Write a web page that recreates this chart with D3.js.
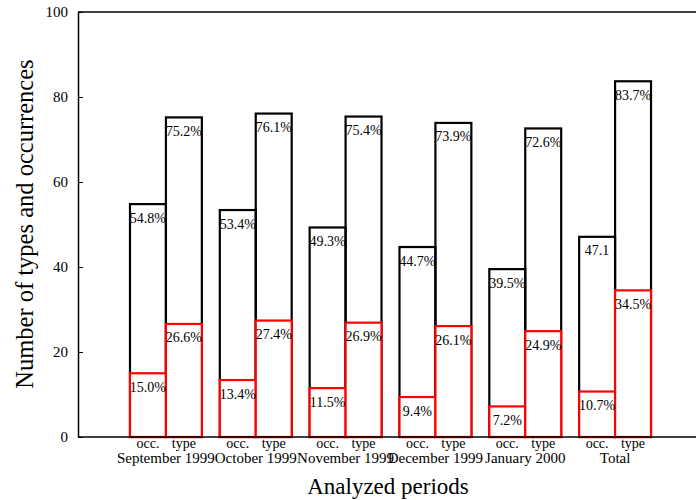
<!DOCTYPE html>
<html lang="en">
<head>
    <meta charset="UTF-8">
    <title>Analyzed periods</title>
    <script src="https://d3js.org/d3.v7.min.js"></script>
    <style>
        body { margin: 0; background: #fff; }
        text { font-family: "Liberation Serif", "DejaVu Serif", serif; }
    </style>
</head>
<body>
    <div id="chart"></div>

    <script>
        // data
        const periods = ["September 1999", "October 1999", "November 1999", "December 1999", "January 2000", "Total"];
        const kinds = ["occ.", "type"];
        const occAll = [54.8, 53.4, 49.3, 44.7, 39.5, 47.1];
        const occRed = [15.0, 13.4, 11.5, 9.4, 7.2, 10.7];
        const typeAll = [75.2, 76.1, 75.4, 73.9, 72.6, 83.7];
        const typeRed = [26.6, 27.4, 26.9, 26.1, 24.9, 34.5];
        const occAllLabels = ["54.8%", "53.4%", "49.3%", "44.7%", "39.5%", "47.1"];
        const occRedLabels = ["15.0%", "13.4%", "11.5%", "9.4%", "7.2%", "10.7%"];
        const typeAllLabels = ["75.2%", "76.1%", "75.4%", "73.9%", "72.6%", "83.7%"];
        const typeRedLabels = ["26.6%", "27.4%", "26.9%", "26.1%", "24.9%", "34.5%"];
        const yTicks = [0, 20, 40, 60, 80, 100];

        const width = 696, height = 500;
        const mLeft = 78, mRight = 696, mTop = 12, mBottom = 437;

        const svg = d3.select("#chart").append("svg")
            .attr("width", width)
            .attr("height", height);

        const x = d3.scaleBand()
            .domain(periods)
            .range([121, 660])
            .paddingInner(0.2)
            .paddingOuter(0.1);

        const xs = d3.scaleBand()
            .domain(kinds)
            .range([0, x.bandwidth()]);

        const y = d3.scaleLinear()
            .domain([0, 100])
            .range([mBottom, mTop]);

        // rows: one per bar
        const rows = [];
        periods.forEach((p, i) => {
            rows.push({ p, k: "occ.", all: occAll[i], red: occRed[i], la: occAllLabels[i], lr: occRedLabels[i] });
            rows.push({ p, k: "type", all: typeAll[i], red: typeRed[i], la: typeAllLabels[i], lr: typeRedLabels[i] });
        });
        const bx = d => x(d.p) + xs(d.k);

        // top frame line
        svg.append("line").attr("x1", mLeft).attr("x2", mRight).attr("y1", mTop).attr("y2", mTop)
            .attr("stroke", "#000").attr("stroke-width", 1.5);

        // black bars
        svg.selectAll("rect.all")
            .data(rows).enter().append("rect")
            .attr("class", "all")
            .attr("x", bx)
            .attr("y", d => y(d.all))
            .attr("width", xs.bandwidth())
            .attr("height", d => mBottom - y(d.all))
            .attr("fill", "none")
            .attr("stroke", "#000")
            .attr("stroke-width", 2.2);

        // red bars
        svg.selectAll("rect.red")
            .data(rows).enter().append("rect")
            .attr("class", "red")
            .attr("x", bx)
            .attr("y", d => y(d.red))
            .attr("width", xs.bandwidth())
            .attr("height", d => mBottom - y(d.red))
            .attr("fill", "#fff")
            .attr("stroke", "#ff0000")
            .attr("stroke-width", 2.2);

        // value labels
        svg.selectAll("text.la")
            .data(rows).enter().append("text")
            .attr("class", "la")
            .attr("x", d => bx(d) + xs.bandwidth() / 2)
            .attr("y", d => y(d.all) + 18.5)
            .attr("text-anchor", "middle")
            .attr("font-size", "14px")
            .text(d => d.la);

        svg.selectAll("text.lr")
            .data(rows).enter().append("text")
            .attr("class", "lr")
            .attr("x", d => bx(d) + xs.bandwidth() / 2)
            .attr("y", d => y(d.red) + 18.5)
            .attr("text-anchor", "middle")
            .attr("font-size", "14px")
            .text(d => d.lr);

        // axes
        const yAxis = svg.append("g")
            .attr("transform", `translate(${mLeft},0)`)
            .call(d3.axisLeft(y).tickValues(yTicks).tickSizeInner(-5).tickSizeOuter(0).tickPadding(10));
        yAxis.select(".domain").attr("stroke-width", 1.5);
        yAxis.selectAll("text").attr("font-size", "15px").attr("font-family", "Liberation Serif");

        svg.append("line").attr("x1", mLeft).attr("x2", mRight).attr("y1", mBottom).attr("y2", mBottom)
            .attr("stroke", "#000").attr("stroke-width", 1.5);

        // category labels
        svg.selectAll("text.kind")
            .data(rows).enter().append("text")
            .attr("class", "kind")
            .attr("x", d => bx(d) + xs.bandwidth() / 2)
            .attr("y", 448)
            .attr("text-anchor", "middle")
            .attr("font-size", "14px")
            .text(d => d.k);

        svg.selectAll("text.period")
            .data(periods).enter().append("text")
            .attr("class", "period")
            .attr("x", d => x(d) + x.bandwidth() / 2)
            .attr("y", 463)
            .attr("text-anchor", "middle")
            .attr("font-size", "15px")
            .text(d => d);

        // axis titles
        svg.append("text")
            .attr("x", 388)
            .attr("y", 494)
            .attr("text-anchor", "middle")
            .attr("font-size", "23px")
            .text("Analyzed periods");

        svg.append("text")
            .attr("transform", "rotate(-90)")
            .attr("x", -224)
            .attr("y", 33)
            .attr("text-anchor", "middle")
            .attr("font-size", "24.5px")
            .text("Number of types and occurrences");
    </script>
</body>
</html>
